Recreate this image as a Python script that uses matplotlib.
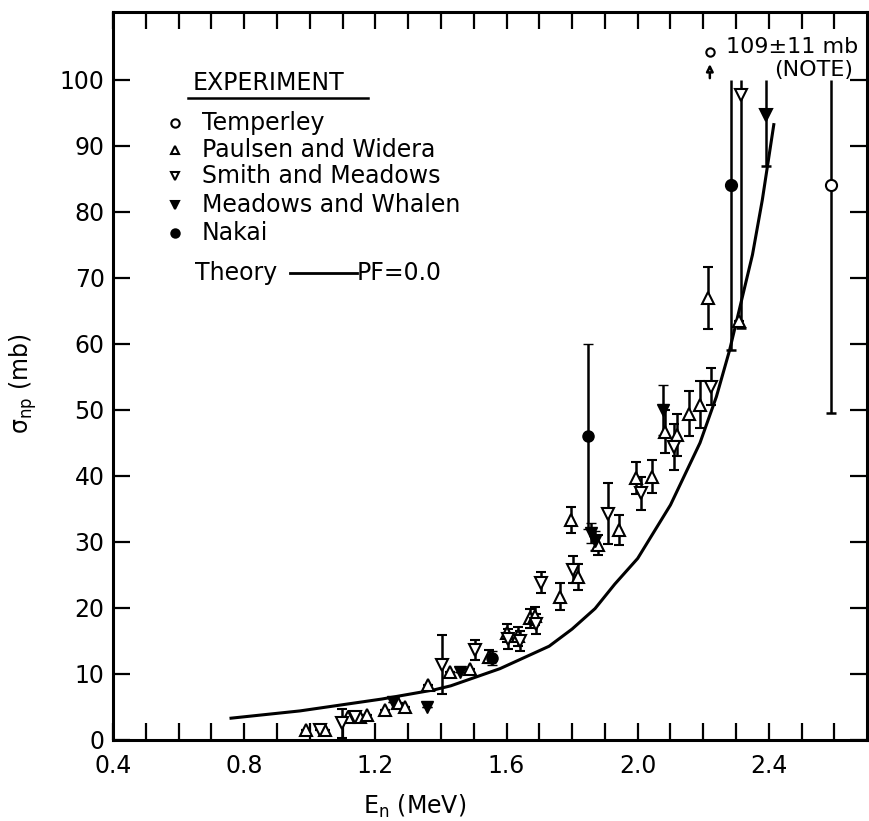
import matplotlib
matplotlib.use("Agg")
import matplotlib.pyplot as plt
import numpy as np

plt.rcParams['font.family'] = ['DejaVu Sans']

# Theory curve, PF = 0.0
theory_e = [0.76, 0.97, 1.22, 1.38, 1.43, 1.58, 1.73, 1.80, 1.87, 1.93, 2.00,
            2.10, 2.19, 2.24, 2.28, 2.31, 2.35, 2.38, 2.415]
theory_s = [3.3, 4.4, 6.2, 7.6, 8.2, 10.8, 14.2, 16.8, 19.9, 23.6, 27.5,
            35.6, 45.0, 52.0, 59.0, 65.2, 73.5, 81.8, 93.2]

# Paulsen and Widera (open up triangles)
paulsen_e = [0.99, 1.047, 1.118, 1.154, 1.174, 1.23, 1.27, 1.29, 1.361, 1.427,
             1.488, 1.548, 1.60, 1.635, 1.671, 1.686, 1.762, 1.797, 1.817, 1.88,
             1.944, 1.995, 2.045, 2.084, 2.121, 2.157, 2.19, 2.213, 2.31]
paulsen_s = [1.5, 1.5, 3.5, 3.5, 3.8, 4.5, 5.6, 5.0, 8.3, 10.3,
             10.7, 12.6, 16.2, 15.7, 18.4, 18.8, 21.7, 33.3, 24.7, 29.5,
             31.8, 39.7, 39.9, 46.7, 46.2, 49.4, 50.8, 66.9, 63.5]
paulsen_err = [0, 0, 0, 0, 0, 0, 0, 0, 0, 0,
               0, 1.0, 1.4, 1.4, 1.4, 1.4, 2.0, 2.0, 2.0, 1.5,
               2.3, 2.4, 2.5, 3.3, 3.2, 3.4, 3.5, 4.7, 0]

# Smith and Meadows (open down triangles)
smith_e = [1.032, 1.098, 1.139, 1.402, 1.505, 1.605, 1.64, 1.69, 1.706, 1.802,
           1.908, 2.01, 2.111, 2.225]
smith_s = [1.5, 2.5, 3.5, 11.4, 13.6, 15.3, 15.0, 17.6, 23.8, 25.8,
           34.3, 37.4, 44.4, 53.5]
smith_err = [0, 2.2, 0, 4.5, 1.5, 1.5, 1.5, 1.5, 1.6, 2.0,
             4.6, 2.5, 3.5, 2.8]

# Meadows and Whalen (filled down triangles)
meadows_e = [1.255, 1.357, 1.458, 1.858, 1.87, 2.076]
meadows_s = [5.8, 5.0, 10.3, 31.3, 30.2, 50.0]
meadows_err = [0, 0, 0, 1.5, 1.5, 3.8]

# Nakai (filled circles)
nakai_e = [1.555, 1.848]
nakai_s = [12.4, 46.0]
nakai_err = [1.0, 14.0]

# points near the top whose bars run off past 100 mb: (E, sigma, lower end)
top_points = {
    'smith': (2.314, 97.7, 62.4),
    'meadows': (2.39, 94.7, 86.9),
    'nakai': (2.283, 84.0, 59.0),
    'temperley': (2.588, 84.0, 49.5),
}
bar_top = 100.0

# Temperley point off scale
temperley_off_e = 2.22
temperley_off_s = 109
temperley_off_err = 11

fig = plt.figure(figsize=(8.69, 8.21), dpi=100)
ax = fig.add_axes([0.130, 0.0987, 0.868, 0.887])

ax.plot(theory_e, theory_s, color='black', lw=2.2, zorder=2)

open_style = dict(mfc='white', mec='black', mew=1.5, ms=8, ecolor='black',
                  elinewidth=1.8, capsize=3.5, capthick=1.8, ls='none', zorder=4)
filled_style = dict(mfc='black', mec='black', mew=1.0, ms=8, ecolor='black',
                    elinewidth=1.8, capsize=3.5, capthick=1.8, ls='none', zorder=4)

ax.errorbar(paulsen_e, paulsen_s, yerr=paulsen_err, marker='^', **open_style)
ax.errorbar(smith_e, smith_s, yerr=smith_err, marker='v', **open_style)
ax.errorbar(meadows_e, meadows_s, yerr=meadows_err, marker='v', **filled_style)
ax.errorbar(nakai_e, nakai_s, yerr=nakai_err, marker='o', **filled_style)

markers = {'smith': ('v', 'white'), 'meadows': ('v', 'black'),
           'nakai': ('o', 'black'), 'temperley': ('o', 'white')}
for key, (e, s, lo) in top_points.items():
    m, fc = markers[key]
    ax.vlines(e, lo, bar_top, color='black', lw=1.8, zorder=3)
    ax.plot(e, lo, marker='_', ms=7, mew=1.8, color='black', zorder=3)
    ax.plot(e, s, marker=m, mfc=fc, mec='black', mew=1.5, ms=8, zorder=4)

# off-scale Temperley point: circle with an up arrow, value written beside
ax.plot(temperley_off_e, 0.945, marker='o', mfc='white', mec='black', mew=1.5,
        ms=6, transform=ax.get_xaxis_transform(), zorder=4)
ax.annotate('', xy=(temperley_off_e, 0.932), xytext=(temperley_off_e, 0.905),
            xycoords=ax.get_xaxis_transform(),
            arrowprops=dict(arrowstyle='-|>', color='black', lw=1.8,
                            mutation_scale=10, fc='white'))
ax.text(2.27, 0.952, f'{temperley_off_s}\u00b1{temperley_off_err} mb',
        transform=ax.get_xaxis_transform(), fontsize=16, va='center', ha='left')
ax.text(2.415, 0.920, '(NOTE)', transform=ax.get_xaxis_transform(),
        fontsize=16, va='center', ha='left')

# legend block drawn by hand
ax.text(0.106, 0.902, 'EXPERIMENT', transform=ax.transAxes, fontsize=17,
        va='center', ha='left')
ax.plot([0.0995, 0.338], [0.882, 0.882], color='black', lw=1.8,
        transform=ax.transAxes, clip_on=False)

legend_rows = [('o', 'white', 'Temperley'),
               ('^', 'white', 'Paulsen and Widera'),
               ('v', 'white', 'Smith and Meadows'),
               ('v', 'black', 'Meadows and Whalen'),
               ('o', 'black', 'Nakai')]
row_y = [0.8475, 0.810, 0.774, 0.735, 0.696]
for (m, fc, name), y in zip(legend_rows, row_y):
    ax.plot(0.082, y, marker=m, mfc=fc, mec='black', mew=1.5, ms=6,
            transform=ax.transAxes)
    ax.text(0.118, y, name, transform=ax.transAxes, fontsize=17,
            va='center', ha='left')

ax.text(0.109, 0.641, 'Theory', transform=ax.transAxes, fontsize=17,
        va='center', ha='left')
ax.plot([0.235, 0.323], [0.641, 0.641], color='black', lw=2,
        transform=ax.transAxes)
ax.text(0.323, 0.641, 'PF=0.0', transform=ax.transAxes, fontsize=17,
        va='center', ha='left')

ax.set_xlim(0.4, 2.7)
ax.set_ylim(0, 110.3)
ax.set_xticks(np.arange(0.4, 2.41, 0.4))
ax.set_xticklabels(['0.4', '0.8', '1.2', '1.6', '2.0', '2.4'])
ax.set_xticks(np.arange(0.5, 2.65, 0.1), minor=True)
ax.set_yticks(np.arange(0, 101, 10))
ax.tick_params(which='both', direction='in', length=12, width=1.6,
               top=True, right=True, labelsize=17)
ax.tick_params(axis='x', which='both', pad=10)
ax.tick_params(axis='y', which='both', pad=6)

for sp in ax.spines.values():
    sp.set_linewidth(2.2)

ax.set_xlabel(r'E$_{\mathregular{n}}$ (MeV)', fontsize=17)
ax.xaxis.set_label_coords(0.40, -0.072)
ax.set_ylabel('\u03c3$_{\\mathregular{np}}$ (mb)', fontsize=17)
ax.yaxis.set_label_coords(-0.098, 0.49)

fig.savefig('out.png', dpi=100)
